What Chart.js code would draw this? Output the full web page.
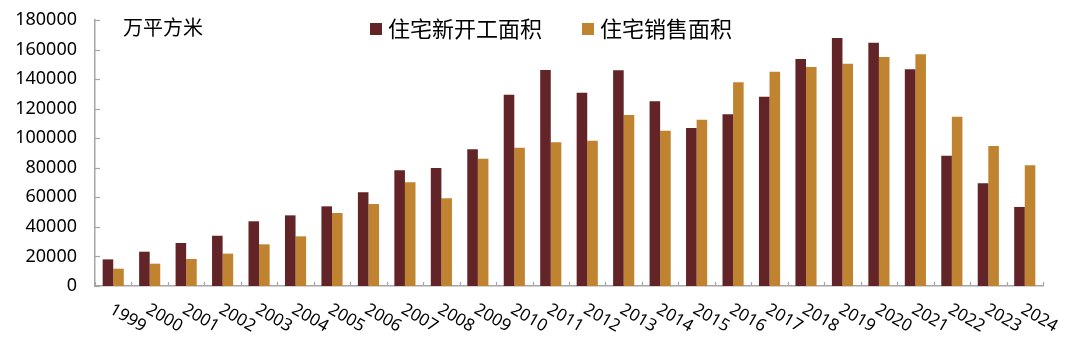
<!DOCTYPE html>
<html>
<head>
<meta charset="utf-8">
<script src="https://cdn.jsdelivr.net/npm/chart.js@4/dist/chart.umd.min.js"></script>
<style>
  html, body { margin: 0; padding: 0; background: #fff; }
  #wrap { width: 1080px; height: 344px; }
</style>
</head>
<body>
<div id="wrap"><canvas id="c" width="1080" height="344"></canvas></div>
<script>
const years = ["1999", "2000", "2001", "2002", "2003", "2004", "2005", "2006", "2007", "2008", "2009", "2010", "2011",
  "2012", "2013", "2014", "2015", "2016", "2017", "2018", "2019", "2020", "2021", "2022", "2023", "2024"];
const newStarts = [18000, 23200, 29100, 34000, 43800, 47800, 53900, 63400, 78300, 79900, 92500, 129500, 146200,
  130800, 146000, 125000, 106900, 116200, 128100, 153600, 167800, 164600, 146600, 88200, 69500, 53500];
const sales = [11700, 15100, 18300, 21900, 28200, 33600, 49400, 55500, 70200, 59300, 86100, 93600, 97200,
  98300, 115700, 105100, 112500, 137800, 145000, 148200, 150400, 155000, 156800, 114600, 94700, 81700];
const unitLabel = "万平方米";

const DARK = "#622427";
const GOLD = "#c08431";
const AXIS = "#a6a6a6";
const CJK = "'Noto Sans CJK SC', 'Noto Sans', sans-serif";
const NUM = "'Noto Sans', sans-serif";

// axis ticks inside the plot, rotated year labels, unit label and legend
const decor = {
  id: "decor",
  afterDraw(chart) {
    const ctx = chart.ctx;
    const area = chart.chartArea;
    const x = chart.scales.x, y = chart.scales.y;
    ctx.save();
    ctx.strokeStyle = AXIS;
    ctx.lineWidth = 1.2;
    // y ticks
    for (const t of y.ticks) {
      const py = Math.round(y.getPixelForValue(t.value)) + 0.5;
      ctx.beginPath();
      ctx.moveTo(area.left, py);
      ctx.lineTo(area.left + 5, py);
      ctx.stroke();
    }
    // x ticks between categories
    const n = years.length;
    for (let i = 0; i <= n; i++) {
      let px;
      if (i === 0) px = area.left;
      else if (i === n) px = area.right;
      else px = (x.getPixelForValue(i - 1) + x.getPixelForValue(i)) / 2;
      px = Math.round(px) + 0.5;
      ctx.beginPath();
      ctx.moveTo(px, area.bottom);
      ctx.lineTo(px, area.bottom - 4);
      ctx.stroke();
    }
    // rotated year labels
    ctx.fillStyle = "#000";
    ctx.font = "17px " + NUM;
    ctx.textAlign = "left";
    ctx.textBaseline = "top";
    years.forEach((yr, i) => {
      const px = x.getPixelForValue(i);
      ctx.save();
      ctx.translate(px + 2, area.bottom + 15);
      ctx.rotate(30 * Math.PI / 180);
      ctx.fillText(yr, 0, 0);
      ctx.restore();
    });
    // unit
    ctx.font = "20px " + CJK;
    ctx.textBaseline = "middle";
    ctx.fillText(unitLabel, 123, 27);
    // legend
    ctx.font = "22px " + CJK;
    let lx = 370;
    chart.data.datasets.forEach(ds => {
      ctx.fillStyle = ds.backgroundColor;
      ctx.fillRect(lx, 23, 12, 12);
      ctx.fillStyle = "#000";
      ctx.fillText(ds.label, lx + 18, 29);
      lx += 18 + ctx.measureText(ds.label).width + 40;
    });
    ctx.restore();
  }
};

new Chart(document.getElementById("c"), {
  type: "bar",
  data: {
    labels: years,
    datasets: [
      { label: "住宅新开工面积", data: newStarts, backgroundColor: DARK },
      { label: "住宅销售面积", data: sales, backgroundColor: GOLD }
    ]
  },
  options: {
    responsive: false,
    animation: false,
    devicePixelRatio: 1,
    layout: { padding: { top: 20, right: 37, left: 0, bottom: 0 } },
    datasets: { bar: { categoryPercentage: 0.58, barPercentage: 1 } },
    plugins: { legend: { display: false }, tooltip: { enabled: false } },
    scales: {
      x: {
        grid: { display: false },
        border: { color: AXIS, width: 1.5 },
        ticks: { display: false },
        afterFit(s) { s.height = 58; }
      },
      y: {
        min: 0,
        max: 180000,
        grid: { display: false, drawTicks: false },
        border: { color: AXIS, width: 1.5 },
        ticks: {
          stepSize: 20000, color: "#000", font: { family: NUM, size: 18 }, padding: 18,
          callback: v => String(v)
        },
        afterFit(s) { s.width = 95; s.paddingTop = 0; s.paddingBottom = 0; }
      }
    }
  },
  plugins: [decor]
});
</script>
</body>
</html>
